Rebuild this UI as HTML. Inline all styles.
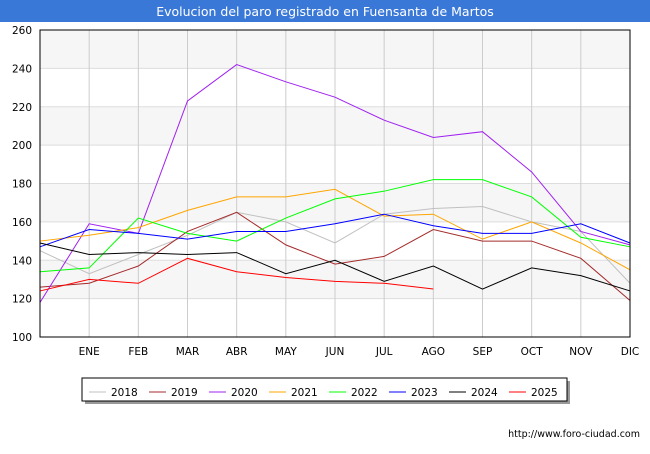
<!DOCTYPE html>
<html><head><meta charset="utf-8"><style>
body{margin:0;width:650px;height:450px;background:#fff;font-family:"DejaVu Sans","Liberation Sans",sans-serif;overflow:hidden}
svg text{font-family:"DejaVu Sans","Liberation Sans",sans-serif}
</style></head><body>
<svg id="c" width="650" height="450" xmlns="http://www.w3.org/2000/svg">
<rect x="0" y="0" width="650" height="22" fill="#3a78d8"/>
<text x="325" y="16" text-anchor="middle" fill="#fff" font-size="12.5">Evolucion del paro registrado en Fuensanta de Martos</text>
<g id="grid"></g><g id="series"></g><g id="axes"></g><g id="legend"></g>
<text x="640" y="437" text-anchor="end" font-size="9.5" fill="#000">http://www.foro-ciudad.com</text>
</svg>
<script>
const months=["","ENE","FEB","MAR","ABR","MAY","JUN","JUL","AGO","SEP","OCT","NOV","DIC"];
const yTicks=[100,120,140,160,180,200,220,240,260];
const years=["2018","2019","2020","2021","2022","2023","2024","2025"];
const colors=["#c0c0c0","#a52a2a","#a020f0","#ffa500","#00ff00","#0000ff","#000000","#ff0000"];
const s2018=[145,133,143,153,165,160,149,164,167,168,160,155,128];
const s2019=[126,128,137,155,165,148,138,142,156,150,150,141,119];
const s2020=[118,159,154,223,242,233,225,213,204,207,186,155,148];
const s2021=[150,153,157,166,173,173,177,163,164,151,160,149,135];
const s2022=[134,136,162,154,150,162,172,176,182,182,173,152,147];
const s2023=[147,156,154,151,155,155,159,164,158,154,154,159,149];
const s2024=[149,143,144,143,144,133,140,129,137,125,136,132,124];
const s2025=[124,130,128,141,134,131,129,128,125];
const series=[s2018,s2019,s2020,s2021,s2022,s2023,s2024,s2025];
const L=40,R=630,T=30,B=337,NS="http://www.w3.org/2000/svg";
const xs=i=>L+i*(R-L)/12, ys=v=>B-(v-100)*(B-T)/160;
function mk(t,a,p){const e=document.createElementNS(NS,t);for(const k in a)e.setAttribute(k,a[k]);document.getElementById(p).appendChild(e);return e;}
for(let i=0;i<yTicks.length-1;i++){if(i%2==1){const r=mk('rect',{x:L,y:ys(yTicks[i+1]),width:R-L,height:ys(yTicks[i])-ys(yTicks[i+1]),fill:'#f6f6f6'},'grid');

}}
yTicks.forEach(v=>{const l=mk('line',{x1:L,x2:R,y1:ys(v),y2:ys(v),stroke:'#ddd'},'grid');


const t=mk('text',{x:L-8,y:ys(v)+4,'text-anchor':'end','font-size':'10.5'},'axes');t.textContent=v;

});
months.forEach((m,i)=>{if(i>0){const l=mk('line',{x1:xs(i),x2:xs(i),y1:T,y2:B,stroke:'#ccc'},'grid');


const t=mk('text',{x:xs(i),y:355,'text-anchor':'middle','font-size':'10.5'},'axes');t.textContent=m;

}});
const fr=mk('rect',{x:L,y:T,width:R-L,height:B-T,fill:'none',stroke:'#000'},'axes');


series.forEach((s,k)=>{const p=mk('polyline',{points:s.map((v,i)=>xs(i)+','+ys(v)).join(' '),fill:'none',stroke:colors[k],'stroke-width':1},'series');

});
const sh=mk('rect',{x:85,y:381,width:485,height:23,fill:'#999'},'legend');


const lb=mk('rect',{x:82,y:378,width:485,height:23,fill:'#fff',stroke:'#000'},'legend');


years.forEach((y,k)=>{const x=89+k*60;const l=mk('line',{x1:x,x2:x+17,y1:392,y2:392,stroke:colors[k],'stroke-width':1},'legend');


const t=mk('text',{x:x+22,y:396,'font-size':'10.5'},'legend');t.textContent=y;

});
</script>
</body></html>
